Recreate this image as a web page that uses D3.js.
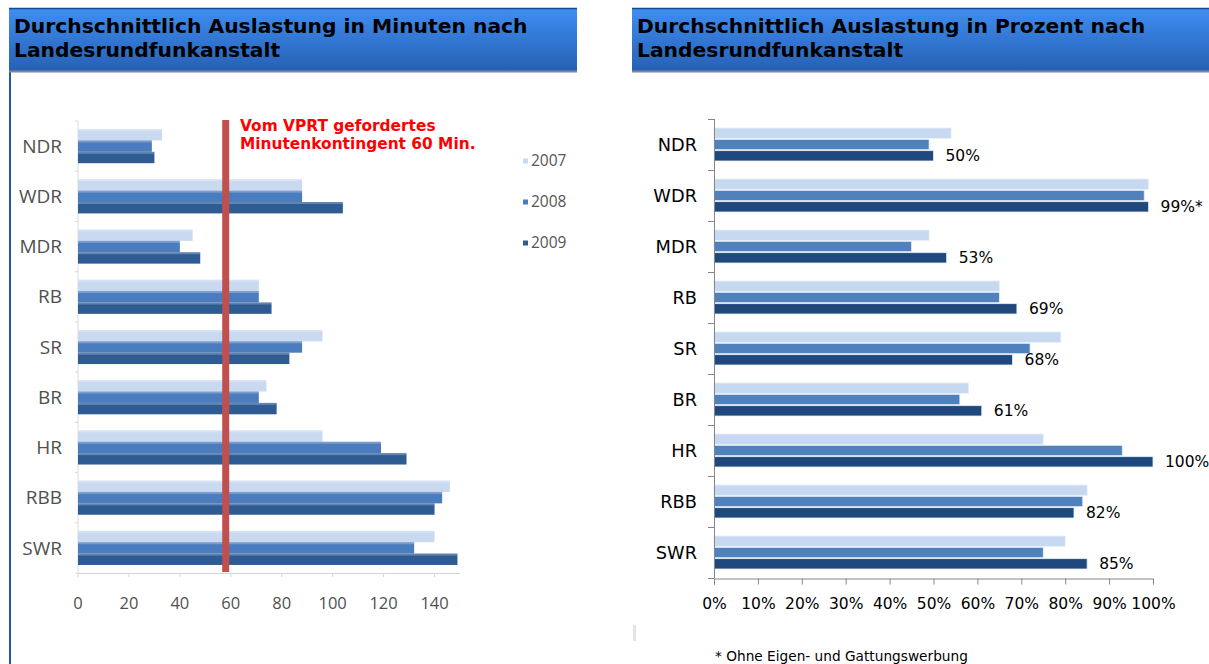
<!DOCTYPE html>
<html>
<head>
<meta charset="utf-8">
<script src="https://cdn.jsdelivr.net/npm/d3@7"></script>
<style>
  body { margin: 0; background: #fff; }
  svg { display: block; }
</style>
</head>
<body>
<div id="chart"></div>
<script>
var width = 1209;
var height = 664;

var categories = ["NDR", "WDR", "MDR", "RB", "SR", "BR", "HR", "RBB", "SWR"];
var years = ["2007", "2008", "2009"];

// minutes per station
var minutes2007 = [33, 88, 45, 71, 96, 74, 96, 146, 140];
var minutes2008 = [29, 88, 40, 71, 88, 71, 119, 143, 132];
var minutes2009 = [30, 104, 48, 76, 83, 78, 129, 140, 149];
var minuteTicks = [0, 20, 40, 60, 80, 100, 120, 140];
var vprtMarker = 58;

// utilisation in percent
var percent2007 = [54, 99, 49, 65, 79, 58, 75, 85, 80];
var percent2008 = [49, 98, 45, 65, 72, 56, 93, 84, 75];
var percent2009 = [50, 99, 53, 69, 68, 61, 100, 82, 85];
var percentLabels = ["50%", "99%*", "53%", "69%", "68%", "61%", "100%", "82%", "85%"];
var percentTicks = [0, 10, 20, 30, 40, 50, 60, 70, 80, 90, 100];

var titleLeft = ["Durchschnittlich Auslastung in Minuten nach", "Landesrundfunkanstalt"];
var titleRight = ["Durchschnittlich Auslastung in Prozent nach", "Landesrundfunkanstalt"];

var colorsLeft = ["#c9d9f0", "#4b7dbe", "#2f5b93"];
var colorsRight = ["#c6d9f1", "#4f81bd", "#1f497d"];

function createSVG() {
  return d3.select("#chart")
    .append("svg")
    .attr("width", width)
    .attr("height", height);
}

function drawHeader(svg, x0, x1, lines) {
  svg.append("rect")
    .attr("x", x0).attr("y", 8)
    .attr("width", x1 - x0).attr("height", 63)
    .attr("fill", "url(#headGrad)");
  svg.append("line")
    .attr("x1", x0).attr("x2", x1).attr("y1", 8.5).attr("y2", 8.5)
    .attr("stroke", "#17498c").attr("stroke-width", 1.5);
  svg.append("line")
    .attr("x1", x0).attr("x2", x1).attr("y1", 71.5).attr("y2", 71.5)
    .attr("stroke", "#7d8a99").attr("stroke-width", 2);
  svg.selectAll(null)
    .data(lines)
    .enter()
    .append("text")
    .attr("x", x0 + 5)
    .attr("y", function(d, i) { return 33 + i * 24; })
    .attr("font-family", "DejaVu Sans, Verdana, sans-serif")
    .attr("font-weight", "bold")
    .attr("font-size", "20.3px")
    .attr("fill", "#000")
    .text(function(d) { return d; });
}

function drawMinutesChart(svg) {
  var x = d3.scaleLinear().domain([0, 150]).range([78, 460]);
  var y = d3.scaleBand().domain(categories).range([121, 573])
    .paddingInner(0.32).paddingOuter(0.16);
  var yy = d3.scaleBand().domain(years).range([0, y.bandwidth()]);
  var series = [minutes2007, minutes2008, minutes2009];

  var g = svg.append("g");

  // faint axes
  g.append("line")
    .attr("x1", 78).attr("x2", 78).attr("y1", 121).attr("y2", 573)
    .attr("stroke", "#dcdcdc");
  g.append("line")
    .attr("x1", 78).attr("x2", 460).attr("y1", 573.5).attr("y2", 573.5)
    .attr("stroke", "#d6d6d6");
  g.selectAll(".ytick")
    .data(d3.range(categories.length + 1))
    .enter()
    .append("line")
    .attr("x1", 75).attr("x2", 78)
    .attr("y1", function(i) { return 121 + i * y.step(); })
    .attr("y2", function(i) { return 121 + i * y.step(); })
    .attr("stroke", "#e0d8c8");
  g.selectAll(".xtick")
    .data(minuteTicks)
    .enter()
    .append("line")
    .attr("x1", function(d) { return x(d); }).attr("x2", function(d) { return x(d); })
    .attr("y1", 573).attr("y2", 577)
    .attr("stroke", "#d6d6d6");

  years.forEach(function(yr, k) {
    g.selectAll(".bar" + yr)
      .data(categories)
      .enter()
      .append("rect")
      .attr("x", x(0))
      .attr("y", function(d) { return y(d) + yy(yr); })
      .attr("width", function(d, i) { return x(series[k][i]) - x(0); })
      .attr("height", yy.bandwidth())
      .attr("fill", colorsLeft[k]);
    // soft highlight on top of each bar
    g.selectAll(".hl" + yr)
      .data(categories)
      .enter()
      .append("rect")
      .attr("x", x(0))
      .attr("y", function(d) { return y(d) + yy(yr); })
      .attr("width", function(d, i) { return x(series[k][i]) - x(0); })
      .attr("height", 2)
      .attr("fill", "#ffffff")
      .attr("opacity", 0.25);
  });

  g.selectAll(".catL")
    .data(categories)
    .enter()
    .append("text")
    .attr("x", 62)
    .attr("y", function(d) { return y(d) + y.bandwidth() / 2; })
    .attr("dy", "0.35em")
    .attr("text-anchor", "end")
    .attr("font-family", "Open Sans, sans-serif")
    .attr("font-size", "19px")
    .attr("fill", "#505050")
    .text(function(d) { return d; });

  g.selectAll(".tickL")
    .data(minuteTicks)
    .enter()
    .append("text")
    .attr("x", function(d) { return x(d); })
    .attr("y", 609)
    .attr("text-anchor", "middle")
    .attr("font-family", "Open Sans, sans-serif")
    .attr("font-size", "16.5px")
    .attr("fill", "#505050")
    .text(function(d) { return d; });

  // VPRT reference line
  g.append("rect")
    .attr("x", x(vprtMarker) - 3.5)
    .attr("y", 120)
    .attr("width", 7)
    .attr("height", 452)
    .attr("fill", "#c0504d");

  g.selectAll(".vprt")
    .data(["Vom VPRT gefordertes", "Minutenkontingent 60 Min."])
    .enter()
    .append("text")
    .attr("x", 240)
    .attr("y", function(d, i) { return 131 + i * 18; })
    .attr("font-family", "DejaVu Sans, Verdana, sans-serif")
    .attr("font-weight", "bold")
    .attr("font-size", "15.4px")
    .attr("fill", "#ff0000")
    .text(function(d) { return d; });

  var legend = g.selectAll(".legL")
    .data(years)
    .enter()
    .append("g")
    .attr("transform", function(d, i) { return "translate(523," + (161 + i * 41) + ")"; });
  legend.append("rect")
    .attr("x", 0).attr("y", -2.5)
    .attr("width", 5).attr("height", 5)
    .attr("fill", function(d, i) { return colorsLeft[i]; });
  legend.append("text")
    .attr("x", 8)
    .attr("dy", "0.35em")
    .attr("font-family", "Open Sans, sans-serif")
    .attr("font-size", "15.5px")
    .attr("fill", "#555")
    .text(function(d) { return d; });
}

function drawPercentChart(svg) {
  var x = d3.scaleLinear().domain([0, 100]).range([714, 1153]);
  var y = d3.scaleBand().domain(categories).range([119, 578])
    .paddingInner(1 / 3).paddingOuter(1 / 6);
  var yy = d3.scaleBand().domain(years).range([0, y.bandwidth()]);
  var series = [percent2007, percent2008, percent2009];

  var g = svg.append("g");

  years.forEach(function(yr, k) {
    g.selectAll(".barR" + yr)
      .data(categories)
      .enter()
      .append("rect")
      .attr("x", x(0))
      .attr("y", function(d) { return y(d) + yy(yr) + 0.5; })
      .attr("width", function(d, i) { return x(series[k][i]) - x(0); })
      .attr("height", yy.bandwidth() - 1)
      .attr("fill", colorsRight[k])
      .attr("stroke", "#e6eef8")
      .attr("stroke-width", 0.8);
  });

  // axes
  g.append("line")
    .attr("x1", 714.5).attr("x2", 714.5).attr("y1", 119).attr("y2", 578)
    .attr("stroke", "#868686");
  g.selectAll(".ytickR")
    .data(d3.range(categories.length + 1))
    .enter()
    .append("line")
    .attr("x1", 708).attr("x2", 714)
    .attr("y1", function(i) { return Math.round(119 + i * y.step()) + 0.5; })
    .attr("y2", function(i) { return Math.round(119 + i * y.step()) + 0.5; })
    .attr("stroke", "#868686");

  var xAxis = d3.axisBottom(x)
    .tickValues(percentTicks)
    .tickSize(6)
    .tickPadding(13)
    .tickFormat(function(d) { return d + "%"; });
  var ax = g.append("g")
    .attr("transform", "translate(0,578.5)")
    .call(xAxis);
  ax.select(".domain").attr("stroke", "#868686");
  ax.selectAll(".tick line").attr("stroke", "#868686");
  ax.selectAll(".tick text")
    .attr("font-family", "DejaVu Sans, Verdana, sans-serif")
    .attr("font-size", "15.5px")
    .attr("fill", "#000");

  g.selectAll(".catR")
    .data(categories)
    .enter()
    .append("text")
    .attr("x", 697)
    .attr("y", function(d) { return y(d) + y.bandwidth() / 2; })
    .attr("dy", "0.36em")
    .attr("text-anchor", "end")
    .attr("font-family", "DejaVu Sans, Verdana, sans-serif")
    .attr("font-size", "17.8px")
    .attr("fill", "#000")
    .text(function(d) { return d; });

  g.selectAll(".lblR")
    .data(categories)
    .enter()
    .append("text")
    .attr("x", function(d, i) { return x(percent2009[i]) + 12; })
    .attr("y", function(d) { return y(d) + yy("2009") + yy.bandwidth() / 2; })
    .attr("dy", "0.36em")
    .attr("font-family", "DejaVu Sans, Verdana, sans-serif")
    .attr("font-size", "15.5px")
    .attr("fill", "#000")
    .text(function(d, i) { return percentLabels[i]; });

  g.append("text")
    .attr("x", 715)
    .attr("y", 661)
    .attr("font-family", "DejaVu Sans, Verdana, sans-serif")
    .attr("font-size", "13.7px")
    .attr("fill", "#000")
    .text("* Ohne Eigen- und Gattungswerbung");
}

function main() {
  var svg = createSVG();

  var grad = svg.append("defs").append("linearGradient")
    .attr("id", "headGrad")
    .attr("x1", 0).attr("y1", 0).attr("x2", 0).attr("y2", 1);
  grad.append("stop").attr("offset", "0%").attr("stop-color", "#3f8ef2");
  grad.append("stop").attr("offset", "100%").attr("stop-color", "#2660b4");

  // left panel border
  svg.append("rect")
    .attr("x", 9).attr("y", 8)
    .attr("width", 2).attr("height", height - 8)
    .attr("fill", "#1d5aa2");

  // faint separator on the right panel
  svg.append("rect")
    .attr("x", 633).attr("y", 625)
    .attr("width", 3).attr("height", 16)
    .attr("fill", "#e4e4e4");

  drawHeader(svg, 9, 577, titleLeft);
  drawHeader(svg, 632, 1209, titleRight);

  drawMinutesChart(svg);
  drawPercentChart(svg);
}

window.onload = function() {
  main();
};
</script>
</body>
</html>
